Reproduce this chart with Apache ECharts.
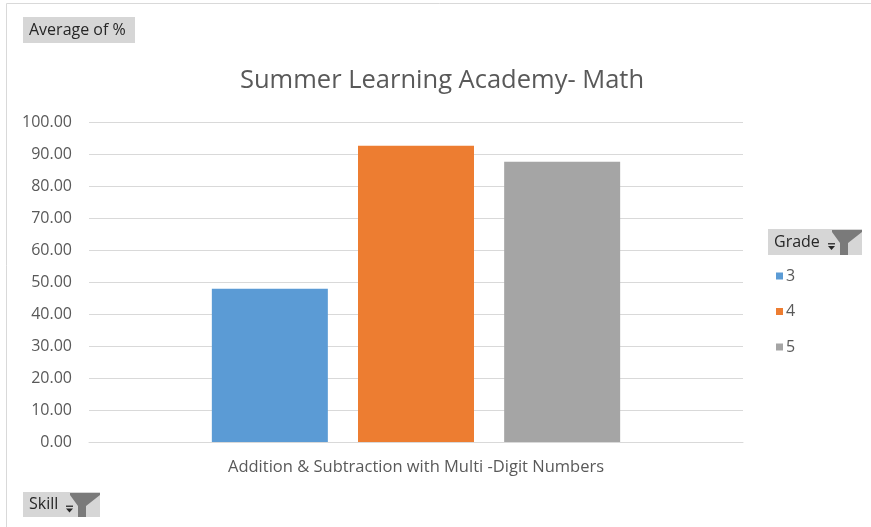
<!DOCTYPE html>
<html><head><meta charset="utf-8">
<script src="https://cdn.jsdelivr.net/npm/echarts@6/dist/echarts.min.js"></script>
<style>html,body{margin:0;padding:0;background:#fff}#c{width:871px;height:527px}</style>
</head><body><div id="c"></div>
<script>
const categories = ['Addition & Subtraction with Multi -Digit Numbers'];
const grades = ['3', '4', '5'];
const grade3 = [47.9];
const grade4 = [92.6];
const grade5 = [87.6];
const colors = ['#5b9bd5', '#ed7d31', '#a5a5a5'];
const font = 'Open Sans';

const chart = echarts.init(document.getElementById('c'));
const seriesData = [grade3, grade4, grade5];
function button(x, y, w, h, label, funnel) {
  const els = [
    {type:'rect', shape:{x:x, y:y, width:w, height:h}, style:{fill:'#d6d6d6'}},
    {type:'text', x:x+6, y:y+h/2, style:{text:label, fill:'#262626', font:'16px "'+font+'"', verticalAlign:'middle'}}
  ];
  if (funnel) {
    const r = x + w;
    els.push({type:'rect', shape:{x:r-34, y:y+h/2+1, width:7, height:1.5}, style:{fill:'#404040'}});
    els.push({type:'polygon', shape:{points:[[r-34,y+h/2+4],[r-27,y+h/2+4],[r-30.5,y+h/2+8]]}, style:{fill:'#262626'}});
    els.push({type:'polygon', shape:{points:[[r-30,y+1],[r,y+1],[r,y+3],[r-14,y+14],[r-14,y+h],[r-22,y+h],[r-22,y+14],[r-30,y+3]]}, style:{fill:'#7a7a7a'}});
  }
  return els;
}
chart.setOption({
  animation: false,
  color: colors,
  title: {
    text: 'Summer Learning Academy- Math', left: 235, top: 63,
    textStyle: {fontFamily: font, fontSize: 25.5, fontWeight: 'normal', color: '#595959'}
  },
  legend: {
    orient: 'vertical', left: 771, top: 263, itemWidth: 7, itemHeight: 7, itemGap: 19.5,
    icon: 'rect',
    textStyle: {fontFamily: font, fontSize: 16, color: '#595959', padding:[0,0,0,-2]},
    data: grades
  },
  grid: {left: 89, right: 128, top: 122, height: 320},
  xAxis: {
    type: 'category', data: categories,
    axisLine: {show: true, lineStyle: {color: '#d9d9d9'}},
    axisTick: {show: false},
    axisLabel: {fontFamily: font, fontSize: 16.5, color: '#595959', margin: 17}
  },
  yAxis: {
    type: 'value', min: 0, max: 100, interval: 10,
    axisLine: {show: false}, axisTick: {show: false},
    splitLine: {lineStyle: {color: '#d9d9d9'}},
    axisLabel: {fontFamily: font, fontSize: 16, color: '#595959', margin: 17,
      formatter: v => v.toFixed(2)}
  },
  series: grades.map((g, i) => ({
    name: g, type: 'bar', data: seriesData[i], barWidth: 116, barGap: '26%'
  })),
  graphic: [
    {type:'rect', shape:{x:6.5, y:3.5, width:900, height:530}, style:{fill:null, stroke:'#d9d9d9', lineWidth:1}, silent:true},
    ...button(23, 17, 112, 26, 'Average of %', false),
    ...button(768, 229, 94, 26, 'Grade', true),
    ...button(23, 492, 77, 25, 'Skill', true)
  ]
});
</script></body></html>
